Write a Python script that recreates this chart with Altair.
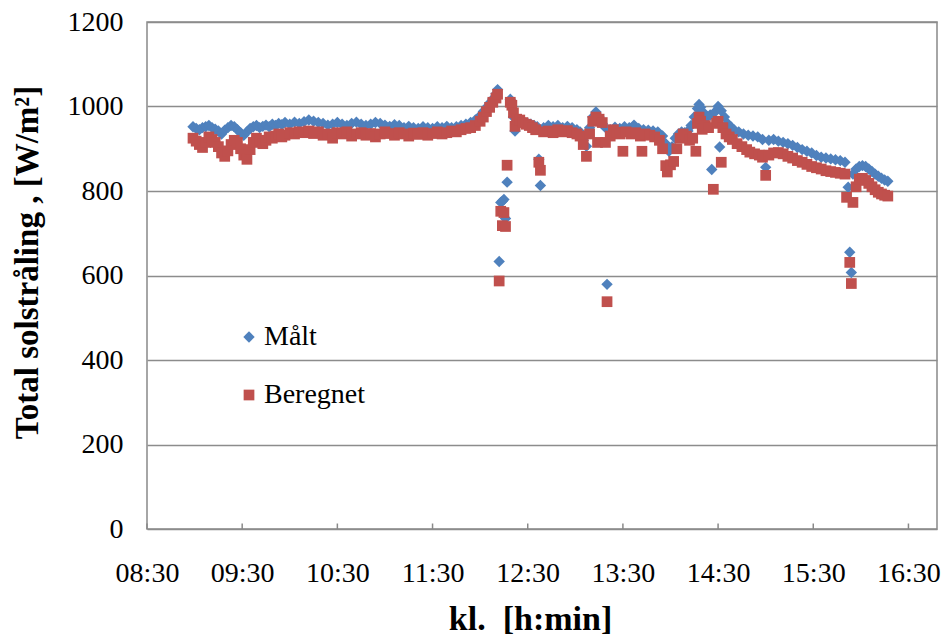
import altair as alt
import pandas as pd

# ---------------- data ----------------
maalt_time = [
    "08:59", "09:01", "09:03", "09:05", "09:07", "09:09", "09:11", "09:13", "09:15", "09:17",
    "09:19", "09:21", "09:23", "09:25", "09:27", "09:29", "09:31", "09:33", "09:35", "09:37",
    "09:39", "09:41", "09:43", "09:45", "09:47", "09:49", "09:51", "09:53", "09:55", "09:57",
    "10:00", "10:03", "10:06", "10:09", "10:12", "10:15", "10:18", "10:21", "10:24", "10:27",
    "10:30", "10:33", "10:36", "10:39", "10:42", "10:45", "10:48", "10:51", "10:54", "10:57",
    "11:00", "11:03", "11:06", "11:09", "11:12", "11:15", "11:18", "11:21", "11:24", "11:27",
    "11:30", "11:33", "11:36", "11:39", "11:42", "11:45", "11:48", "11:51", "11:54", "11:57",
    "12:00", "12:02", "12:04", "12:06", "12:08", "12:10", "12:11", "12:12", "12:13", "12:14",
    "12:15", "12:16", "12:17", "12:19", "12:20", "12:21", "12:22", "12:24", "12:26", "12:28",
    "12:30", "12:32", "12:34", "12:36", "12:37", "12:38", "12:40", "12:43", "12:46", "12:49",
    "12:52", "12:55", "12:58", "13:01", "13:03", "13:05", "13:07", "13:09", "13:11", "13:13",
    "13:15", "13:17", "13:19", "13:20", "13:22", "13:25", "13:28", "13:31", "13:34", "13:37",
    "13:40", "13:43", "13:46", "13:49", "13:52", "13:55", "13:57", "13:59", "14:01", "14:03",
    "14:05", "14:07", "14:09", "14:11", "14:13", "14:15", "14:17", "14:18", "14:19", "14:21",
    "14:23", "14:25", "14:26", "14:28", "14:30", "14:31", "14:32", "14:34", "14:36", "14:38",
    "14:40", "14:43", "14:46", "14:49", "14:52", "14:55", "14:58", "15:00", "15:02", "15:05",
    "15:08", "15:11", "15:14", "15:17", "15:20", "15:23", "15:26", "15:29", "15:32", "15:35",
    "15:38", "15:41", "15:44", "15:47", "15:50", "15:52", "15:53", "15:54", "15:55", "15:57",
    "15:59", "16:01", "16:03", "16:05", "16:07", "16:09", "16:11", "16:13", "16:15", "16:17",
]
maalt_value = [
    952, 948, 945, 950, 952, 955, 950, 946, 942, 935,
    944, 950, 955, 952, 945, 938, 932, 940, 948, 952,
    955, 950, 953, 956, 952, 958, 955, 960, 957, 962,
    958, 963, 960, 964, 968, 965, 962, 960, 956, 958,
    962, 958, 955, 960, 963, 958, 955, 958, 962, 960,
    956, 953, 957, 955, 950, 953, 950, 948, 952, 950,
    948, 952, 950, 953, 950, 952, 955, 958, 962, 968,
    978, 988, 998, 1008, 1018, 1030, 1040, 633, 773, 776,
    780, 735, 821, 1017, 1000, 975, 942, 968, 965, 962,
    960, 958, 955, 952, 875, 813, 950, 955, 952, 955,
    950, 953, 950, 945, 940, 920, 906, 950, 975, 987,
    975, 960, 950, 579, 945, 951, 948, 952, 950, 956,
    948, 945, 944, 942, 940, 930, 912, 894, 905, 925,
    935, 940, 938, 942, 955, 975, 995, 1005, 998, 985,
    975, 980, 851, 987, 1000, 904, 990, 975, 960, 952,
    945, 940, 935, 932, 930, 928, 922, 856, 920, 922,
    918, 915, 912, 908, 903, 898, 894, 890, 884, 880,
    878, 876, 874, 872, 868, 809, 655, 607, 840, 852,
    858, 860, 858, 852, 846, 840, 835, 830, 826, 823,
]

beregnet_time = [
    "08:59", "09:01", "09:03", "09:05", "09:07", "09:09", "09:11", "09:13", "09:15", "09:17",
    "09:19", "09:21", "09:23", "09:25", "09:27", "09:29", "09:31", "09:33", "09:35", "09:37",
    "09:39", "09:41", "09:43", "09:45", "09:47", "09:49", "09:51", "09:53", "09:55", "09:57",
    "10:00", "10:03", "10:06", "10:09", "10:12", "10:15", "10:18", "10:21", "10:24", "10:27",
    "10:30", "10:33", "10:36", "10:39", "10:42", "10:45", "10:48", "10:51", "10:54", "10:57",
    "11:00", "11:03", "11:06", "11:09", "11:12", "11:15", "11:18", "11:21", "11:24", "11:27",
    "11:30", "11:33", "11:36", "11:39", "11:42", "11:45", "11:48", "11:51", "11:54", "11:57",
    "12:00", "12:02", "12:04", "12:06", "12:08", "12:10", "12:11", "12:12", "12:13", "12:14",
    "12:15", "12:16", "12:17", "12:19", "12:20", "12:21", "12:22", "12:23", "12:25", "12:27",
    "12:29", "12:31", "12:33", "12:35", "12:37", "12:38", "12:40", "12:43", "12:46", "12:49",
    "12:52", "12:55", "12:58", "13:01", "13:03", "13:05", "13:07", "13:09", "13:11", "13:13",
    "13:14", "13:15", "13:17", "13:19", "13:20", "13:22", "13:24", "13:26", "13:28", "13:30",
    "13:32", "13:35", "13:38", "13:41", "13:42", "13:44", "13:47", "13:50", "13:53", "13:55",
    "13:57", "13:58", "14:00", "14:02", "14:04", "14:06", "14:08", "14:10", "14:12", "14:14",
    "14:16", "14:17", "14:18", "14:19", "14:20", "14:22", "14:24", "14:27", "14:29", "14:30",
    "14:32", "14:33", "14:35", "14:37", "14:39", "14:42", "14:45", "14:48", "14:50", "14:53",
    "14:56", "14:58", "15:00", "15:02", "15:05", "15:08", "15:11", "15:14", "15:17", "15:20",
    "15:23", "15:26", "15:29", "15:32", "15:35", "15:38", "15:41", "15:44", "15:47", "15:50",
    "15:51", "15:53", "15:54", "15:55", "15:57", "15:59", "16:01", "16:03", "16:05", "16:07",
    "16:09", "16:11", "16:13", "16:15", "16:17",
]
beregnet_value = [
    925, 918, 910, 903, 915, 928, 922, 915, 905, 890,
    882, 895, 910, 920, 915, 900, 885, 875, 898, 915,
    925, 920, 912, 920, 928, 925, 930, 935, 928, 932,
    938, 935, 940, 938, 942, 936, 940, 932, 935, 925,
    938, 935, 940, 930, 935, 938, 932, 936, 928, 935,
    940, 936, 932, 938, 935, 930, 937, 934, 938, 932,
    936, 940, 935, 938, 942, 940, 945, 948, 950, 955,
    965, 975, 988, 998, 1010, 1020, 1029, 587, 752, 718,
    749, 716, 861, 1010, 1003, 985, 953, 970, 968, 962,
    958, 955, 950, 945, 868, 849, 940, 942, 938, 945,
    940, 943, 938, 935, 930, 910, 882, 935, 965, 975,
    915, 970, 962, 915, 538, 930, 945, 939, 935, 894,
    940, 935, 938, 930, 894, 935, 932, 928, 920, 900,
    860, 845, 862, 870, 900, 925, 935, 930, 920, 925,
    894, 960, 975, 965, 946, 955, 950, 804, 960, 965,
    868, 950, 935, 928, 922, 912, 905, 898, 892, 888,
    885, 880, 837, 885, 890, 891, 888, 882, 878, 872,
    868, 863, 858, 855, 852, 848, 846, 844, 842, 840,
    785, 631, 581, 773, 810, 828, 830, 825, 818, 810,
    803, 797, 793, 790, 788,
]

series_names = ["Målt", "Beregnet"]
series_colors = ["#4F81BD", "#C0504D"]
series_shapes = ["diamond", "square"]
series_sizes = [130, 115]

x_tick_labels = ["08:30", "09:30", "10:30", "11:30", "12:30", "13:30", "14:30", "15:30", "16:30"]
x_end = "16:48"
y_ticks = [0, 200, 400, 600, 800, 1000, 1200]


def to_min(s):
    h, m = s.split(":")
    return int(h) * 60 + int(m)


df = pd.DataFrame({
    "tid": [to_min(t) for t in maalt_time] + [to_min(t) for t in beregnet_time],
    "verdi": maalt_value + beregnet_value,
    "serie": [series_names[0]] * len(maalt_time) + [series_names[1]] * len(beregnet_time),
})
ticks_df = pd.DataFrame({"tid": [to_min(t) for t in x_tick_labels]})

x_domain = [to_min(x_tick_labels[0]), to_min(x_end)]
label_expr = ("(floor(datum.value/60) < 10 ? '0' : '') + floor(datum.value/60) + ':' + "
              "(datum.value % 60 < 10 ? '0' : '') + (datum.value % 60)")

FONT = "Liberation Serif"
x_scale = alt.Scale(domain=x_domain, nice=False, zero=False)
y_scale = alt.Scale(domain=[0, 1200], nice=False)

legend = alt.Legend(title=None, orient="none", legendX=88, legendY=301,
                    labelFont=FONT, labelFontSize=28, labelColor="black",
                    rowPadding=30, symbolSize=90, labelOffset=1,
                    padding=0, symbolStrokeWidth=0)

points = alt.Chart(df).mark_point(filled=True, opacity=1).encode(
    x=alt.X("tid:Q", scale=x_scale,
            axis=alt.Axis(values=[to_min(t) for t in x_tick_labels], labelExpr=label_expr,
                          title="kl.\u00a0 [h:min]", grid=False, labelBaseline="alphabetic",
                          labelPadding=52, labelOverlap=False, labelFlush=False,
                          titleX=383, titleY=100, titleBaseline="alphabetic",
                          titleFontSize=34, titleAnchor="middle", titleAlign="center")),
    y=alt.Y("verdi:Q", scale=y_scale,
            axis=alt.Axis(values=y_ticks, format="d", title="Total solstråling , [W/m²]",
                          grid=True, labelPadding=24, titleX=-110, titleY=240, titleAngle=-90,
                          titleFontSize=33, titleBaseline="alphabetic", titleAlign="center")),
    color=alt.Color("serie:N", sort=series_names,
                    scale=alt.Scale(domain=series_names, range=series_colors),
                    legend=legend),
    shape=alt.Shape("serie:N", sort=series_names,
                    scale=alt.Scale(domain=series_names, range=series_shapes),
                    legend=legend),
    size=alt.Size("serie:N", scale=alt.Scale(domain=series_names, range=series_sizes),
                  legend=None),
    order=alt.Order("serie_order:Q"),
).transform_calculate(
    serie_order="datum.serie == 'Målt' ? 0 : 1"
)

inner_ticks = alt.Chart(ticks_df).mark_rule(color="#898989", strokeWidth=1.5).encode(
    x=alt.X("tid:Q", scale=x_scale, axis=None),
    y=alt.datum(0, scale=y_scale, axis=None),
    y2=alt.datum(13),
)

chart = alt.layer(points, inner_ticks).resolve_axis(
    x="independent", y="independent"
).properties(
    width=790, height=507,
    autosize=alt.AutoSizeParams(type="none"),
    padding={"left": 147, "top": 22, "right": 5, "bottom": 108},
    background="white",
).configure_view(
    stroke="#898989", strokeWidth=1.5
).configure_axis(
    labelFont=FONT, labelFontSize=28, labelColor="black",
    titleFont=FONT, titleFontWeight="bold", titleColor="black",
    gridColor="#8c8c8c", gridWidth=1.5, domain=False, ticks=False, tickSize=0,
)

chart.save("out.html", embed_options={"renderer": "svg", "actions": False})
